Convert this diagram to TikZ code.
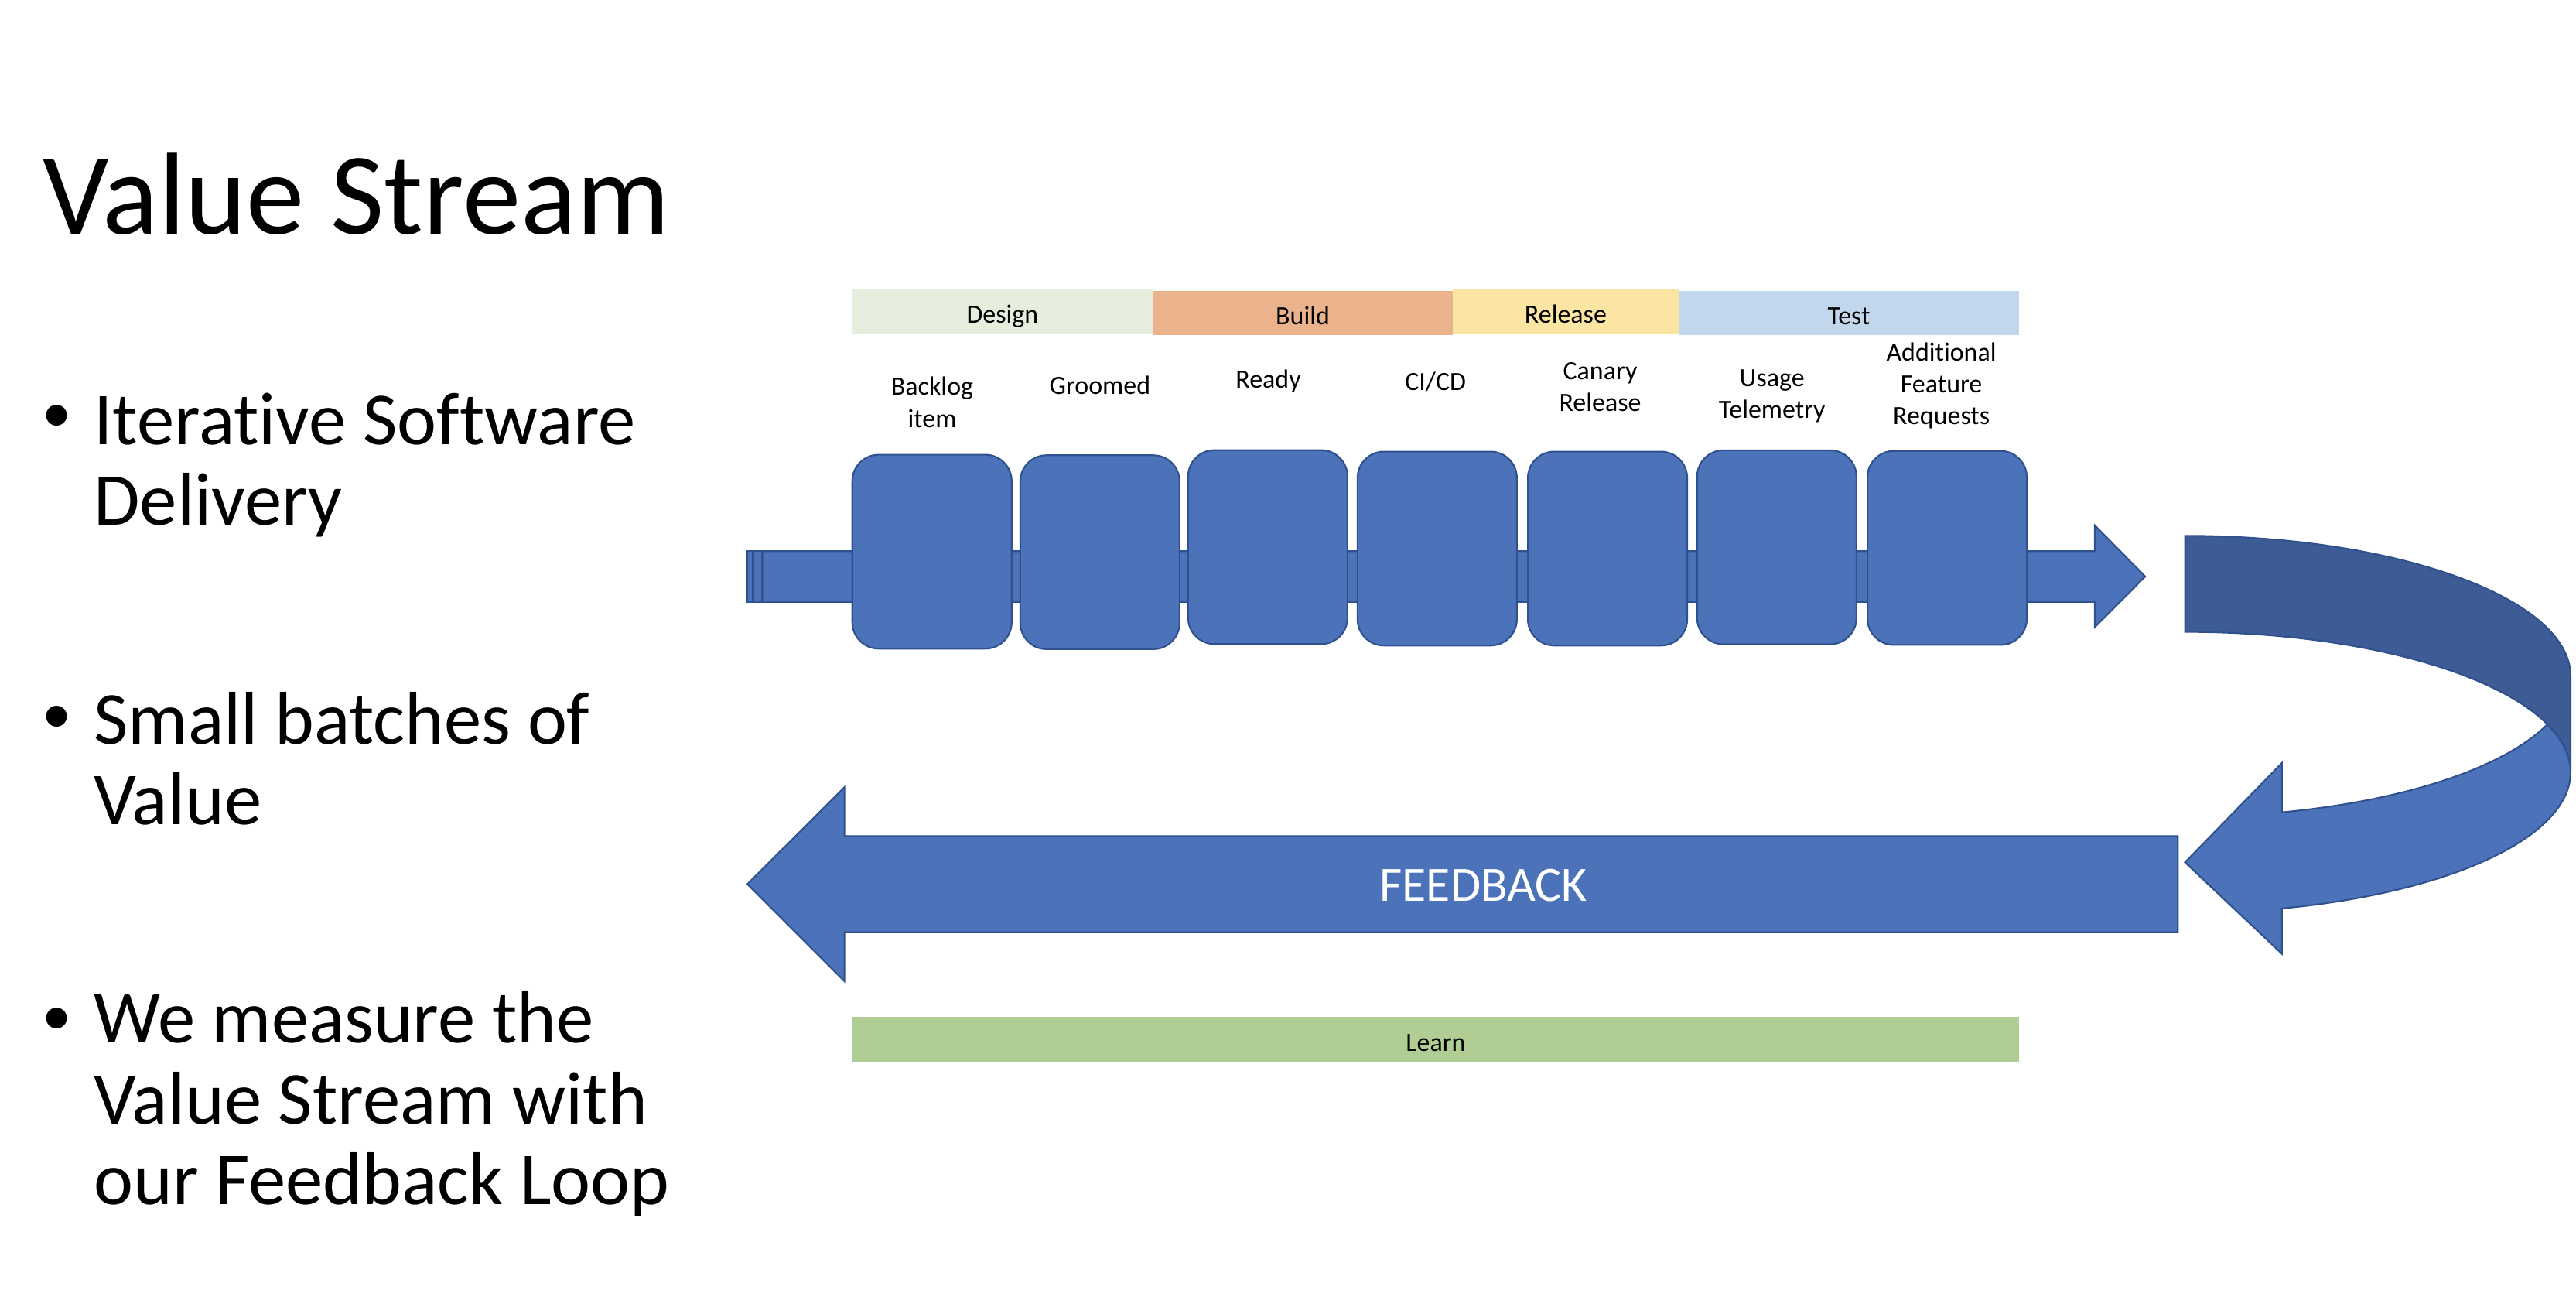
\documentclass[tikz,border=0pt]{standalone}
\usepackage{fontspec}
\setmainfont{Carlito}[Ligatures=NoCommon]
\definecolor{vsblue}{HTML}{4C72BA}
\definecolor{vsdark}{HTML}{3D5B94}
\definecolor{vsline}{HTML}{2F528F}
\definecolor{designc}{HTML}{E5EEDC}
\definecolor{buildc}{HTML}{EAB38B}
\definecolor{releasec}{HTML}{FBE5A2}
\definecolor{testc}{HTML}{C3D7EC}
\definecolor{learnc}{HTML}{B0CE94}
\tikzset{
	blk/.style={fill=vsblue,draw=vsline,line width=1pt},
	stage/.style={blk,rounded corners=16pt,minimum width=97pt,minimum height=118pt,inner sep=0pt},
	phase/.style={minimum height=27pt,inner sep=0pt,text height=14pt,text depth=0pt,font=\fontsize{16}{19.5}\selectfont},
	lbl/.style={align=center,anchor=base,inner sep=0pt,font=\fontsize{16}{19.5}\selectfont},
	bul/.style={align=left,anchor=base west,inner sep=0pt,font=\fontsize{45.5}{49}\selectfont},
	dot/.style={anchor=base west,inner sep=0pt,font=\fontsize{36}{40}\selectfont}
}
\begin{document}
\begin{tikzpicture}[x=1pt,y=-1pt]
		%%%%% START %%%%%
		\useasboundingbox (0,0) rectangle (1568,799.5);
		
		\node[anchor=base west,inner sep=0pt,font=\fontsize{71}{80}\selectfont] (title) at (26,142.5) {Value Stream};
		
		% last line baselines
		\node[dot] (dot1) at (25.5,263) {\textbullet};
		\node[bul] (b1) at (57,319.7) {Iterative Software\\Delivery};
		\node[dot] (dot2) at (25.5,446) {\textbullet};
		\node[bul] (b2) at (57,501.9) {Small batches of\\Value};
		\node[dot] (dot3) at (25.5,629.9) {\textbullet};
		\node[bul] (b3) at (57,732.7) {We measure the\\Value Stream with\\our Feedback Loop};
		
		\node[phase,fill=designc,minimum width=182.8pt] (design) at (610.2,189.5) {Design};
		\node[phase,fill=buildc,minimum width=182.7pt] (build) at (793,190.5) {Build};
		\node[phase,fill=releasec,minimum width=137.5pt] (release) at (953,189.5) {Release};
		\node[phase,fill=testc,minimum width=207.2pt] (test) at (1125.4,190.5) {Test};
		
		\node[lbl] (l1) at (567.4,260.1) {Backlog\\item};
		\node[lbl] (l2) at (669.5,239.8) {Groomed};
		\node[lbl] (l3) at (772,236.3) {Ready};
		\node[lbl] (l4) at (873.8,237.4) {CI/CD};
		\node[lbl] (l5) at (974,250.4) {Canary\\Release};
		\node[lbl] (l6) at (1078.6,254.6) {Usage\\Telemetry};
		\node[lbl] (l7) at (1181.7,258.5) {Additional\\Feature\\Requests};
		
		% stream arrow
		\draw[blk] (454.9,335.4) rectangle (458.3,366.2);
		\draw[blk] (458.8,335.4) rectangle (464,366.2);
		\draw[blk] (464.1,335.4) -- (1275.1,335.4) -- (1275.1,319.7) -- (1305.8,350.8) -- (1275.1,381.6) -- (1275.1,366.2) -- (464.1,366.2) -- cycle;
		
		\foreach \i/\x/\y in {1/567.3/335.7,2/669.5/336,3/771.7/332.9,4/874.8/333.8,5/978.5/333.8,6/1081.5/333,7/1185.2/333.4}
			\node[stage] (s\i) at (\x,\y) {};
		
		% turn back
		\fill[vsdark,draw=vsline,line width=1pt] (1330,326) arc[start angle=-90,end angle=0,x radius=234.7,y radius=85.5] -- (1564.7,470) arc[start angle=0,end angle=-90,x radius=234.7,y radius=85.5] -- cycle;
		\draw[blk] (1550.5,440.76) arc[start angle=-20,end angle=75.44,x radius=234.7,y radius=85.5] -- (1389,580.4) -- (1330,524.7) -- (1389,464.2) -- (1389,494.26) arc[start angle=75.44,end angle=20,x radius=234.7,y radius=85.5] -- cycle;
		
		% feedback arrow
		\draw[blk] (1325.6,508.8) -- (514,508.8) -- (514,479) -- (454.9,538) -- (514,597) -- (514,567.3) -- (1325.6,567.3) -- cycle;
		\node[anchor=base,inner sep=0pt,text=white,font=\fontsize{30}{36}\selectfont] (fb) at (903,548.2) {FEEDBACK};
		
		\node[phase,fill=learnc,minimum width=710.2pt,minimum height=27.9pt] (learn) at (873.9,632.65) {Learn};
		%%%%% END %%%%%
	\end{tikzpicture}
\end{document}
